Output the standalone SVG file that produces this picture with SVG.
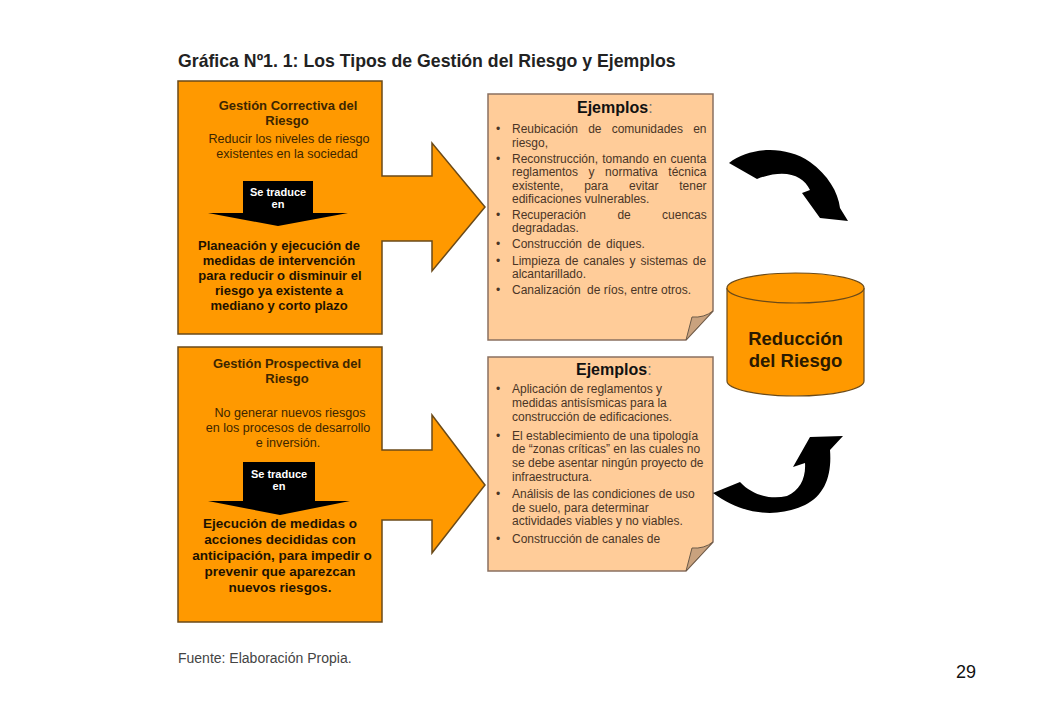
<svg xmlns="http://www.w3.org/2000/svg" width="1040" height="720" viewBox="0 0 1040 720">
<style>
.t{font-family:"Liberation Sans",Arial,sans-serif}
.box{fill:#FF9900;stroke:#6b4a18;stroke-width:1.5}
.ex{fill:#FFCC99;stroke:#8a7060;stroke-width:1.5}
.fold{fill:#C9A27E;stroke:#6b5a48;stroke-width:1}
.blk{fill:#000}
.hd{font-size:13px;font-weight:bold;fill:#3d2600;text-anchor:middle}
.sub{font-size:12.6px;fill:#3d2600;text-anchor:middle}
.big{font-size:13px;font-weight:bold;fill:#1e1200;text-anchor:middle}
.big2{font-size:13.5px;font-weight:bold;fill:#1e1200;text-anchor:middle}
.wt{font-size:11px;font-weight:bold;fill:#fff;text-anchor:middle}
.ej{font-size:16px;font-weight:bold;fill:#111}
.li{font-size:12px;fill:#4a3526}
</style>
<rect width="1040" height="720" fill="#fff"/>
<text class="t" x="178" y="67" font-size="17.7" font-weight="bold" fill="#222">Gráfica Nº1. 1: Los Tipos de Gestión del Riesgo y Ejemplos</text>

<g id="correctiva">
<path class="box" d="M178,81 H382 V176 H432 V143 L485,207 L432,271 V241 H382 V334 H178 Z"/>
<text class="t hd" x="288" y="110">Gestión Correctiva del</text>
<text class="t hd" x="287" y="125">Riesgo</text>
<text class="t sub" x="289" y="143">Reducir los niveles de riesgo</text>
<text class="t sub" x="287" y="158">existentes en la sociedad</text>
<polygon class="blk" points="243,181 313,181 313,213 348,213 278,226 208,213 243,213"/>
<text class="t wt" x="278" y="196">Se traduce</text>
<text class="t wt" x="278" y="208">en</text>
<text class="t big" x="279" y="250">Planeación y ejecución de</text>
<text class="t big" x="279" y="265">medidas de intervención</text>
<text class="t big" x="280" y="280">para reducir o disminuir el</text>
<text class="t big" x="279" y="295">riesgo ya existente a</text>
<text class="t big" x="279" y="310">mediano y corto plazo</text>
</g>

<g id="prospectiva">
<path class="box" d="M178,347 H382 V450 H432 V415 L485,485 L432,553 V520 H382 V622 H178 Z"/>
<text class="t hd" x="287" y="368">Gestión Prospectiva del</text>
<text class="t hd" x="287" y="383">Riesgo</text>
<text class="t sub" x="290" y="417">No generar nuevos riesgos</text>
<text class="t sub" x="288" y="432">en los procesos de desarrollo</text>
<text class="t sub" x="288" y="447">e inversión.</text>
<polygon class="blk" points="243,462 315,462 315,501 350,501 280,515 208,501 243,501"/>
<text class="t wt" x="279" y="478">Se traduce</text>
<text class="t wt" x="279" y="490">en</text>
<text class="t big2" x="280" y="528">Ejecución de medidas o</text>
<text class="t big2" x="280" y="544">acciones decididas con</text>
<text class="t big2" x="282" y="560">anticipación, para impedir o</text>
<text class="t big2" x="280" y="576">prevenir que aparezcan</text>
<text class="t big2" x="280" y="592">nuevos riesgos.</text>
</g>

<g id="ejemplos1">
<path class="ex" d="M488,94 H713 V311 L686,340 H488 Z"/>
<path class="fold" d="M686,340 L692,317 Q704,318 713,311 Z"/>
<text class="t ej" x="577" y="113">Ejemplos<tspan font-weight="normal" fill="#777">:</tspan></text>
<g class="t li">
<text x="496" y="133">•</text><text x="496" y="163">•</text><text x="496" y="219">•</text><text x="496" y="248">•</text><text x="496" y="265">•</text><text x="496" y="294">•</text>
<text x="512" y="133" word-spacing="6.8">Reubicación de comunidades en</text>
<text x="512" y="147">riesgo,</text>
<text x="512" y="163" word-spacing="0.8">Reconstrucción, tomando en cuenta</text>
<text x="512" y="176" word-spacing="7.2">reglamentos y normativa técnica</text>
<text x="512" y="190" word-spacing="17.5">existente, para evitar tener</text>
<text x="512" y="203">edificaciones vulnerables.</text>
<text x="512" y="219" word-spacing="28">Recuperación de cuencas</text>
<text x="512" y="232">degradadas.</text>
<text x="512" y="248" word-spacing="2">Construcción de diques.</text>
<text x="512" y="265" word-spacing="1.6">Limpieza de canales y sistemas de</text>
<text x="512" y="278">alcantarillado.</text>
<text x="512" y="294"><tspan>Canalización</tspan><tspan dx="3"> de ríos, entre otros.</tspan></text>
</g>
</g>

<g id="ejemplos2">
<path class="ex" d="M488,357 H713 V542 L686,571 H488 Z"/>
<path class="fold" d="M686,571 L692,548 Q704,549 713,542 Z"/>
<text class="t ej" x="576" y="375">Ejemplos<tspan font-weight="normal" fill="#777">:</tspan></text>
<g class="t li">
<text x="496" y="393">•</text><text x="496" y="440">•</text><text x="496" y="498">•</text><text x="496" y="543">•</text>
<text x="512" y="393">Aplicación de reglamentos y</text>
<text x="512" y="407">medidas antisísmicas para la</text>
<text x="512" y="421">construcción de edificaciones.</text>
<text x="512" y="440">El establecimiento de una tipología</text>
<text x="512" y="453">de “zonas críticas” en las cuales no</text>
<text x="512" y="467">se debe asentar ningún proyecto de</text>
<text x="512" y="481">infraestructura.</text>
<text x="512" y="498">Análisis de las condiciones de uso</text>
<text x="512" y="512">de suelo, para determinar</text>
<text x="512" y="525">actividades viables y no viables.</text>
<text x="512" y="543">Construcción de canales de</text>
</g>
</g>

<g id="reduccion">
<path d="M727,288 V381 A68.5,15 0 0 0 864,381 V288" fill="#FF9900" stroke="#6b4a18" stroke-width="1.2"/>
<ellipse cx="795.5" cy="288" rx="68.5" ry="15" fill="#FF9900" stroke="#6b4a18" stroke-width="1.2"/>
<text class="t" x="795.5" y="345" font-size="18.5" font-weight="bold" fill="#2a1a00" text-anchor="middle">Reducción</text>
<text class="t" x="795.5" y="367" font-size="18.5" font-weight="bold" fill="#2a1a00" text-anchor="middle">del Riesgo</text>
</g>

<g id="connectors">
<path class="blk" d="M729,163 C750,147 785,145 810,162 C828,175 838,192 840,208 L848,221 L820,218 L802,193 L810,190 C803,175 785,168 757,179 Z"/>
<path class="blk" d="M713,493 L740,482 C752,495 770,500 787,496 C800,490 806,478 805,463 L793,467 L810,437 L843,436 L830,450 C832,475 825,495 805,505 C780,517 745,517 713,493 Z"/>
</g>

<text class="t" x="178" y="663" font-size="14" fill="#444">Fuente: Elaboración Propia.</text>
<text class="t" x="966" y="678" font-size="18" fill="#111" text-anchor="middle">29</text>
</svg>
